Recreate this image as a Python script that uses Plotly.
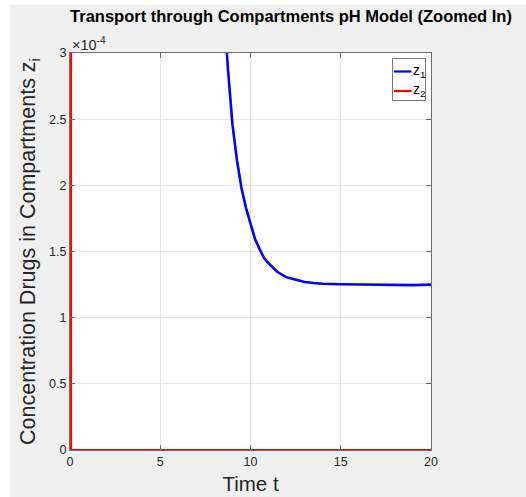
import plotly.graph_objects as go

# Compartment 1 concentration (steep decay toward a plateau)
t1 = [8.5, 8.75, 9.0, 9.25, 9.5, 9.75, 10.0, 10.25, 10.5, 10.75, 11.0, 11.5,
      12.0, 12.5, 13.0, 13.5, 14.0, 15.0, 16.0, 17.0, 18.0, 19.0, 20.0]
z1 = [3.40e-4, 2.88e-4, 2.46e-4, 2.19e-4, 1.98e-4, 1.83e-4, 1.71e-4, 1.595e-4,
      1.52e-4, 1.45e-4, 1.41e-4, 1.345e-4, 1.305e-4, 1.285e-4, 1.27e-4,
      1.262e-4, 1.256e-4, 1.252e-4, 1.250e-4, 1.249e-4, 1.248e-4, 1.246e-4,
      1.250e-4]

# Compartment 2 concentration (drops to zero almost immediately)
t2 = [0.0, 0.06, 0.5, 1.0, 2.0, 5.0, 10.0, 15.0, 20.0]
z2 = [2.0e-2, 0.0, 0.0, 0.0, 0.0, 0.0, 0.0, 0.0, 0.0]

series_names = ["z<sub>1</sub>", "z<sub>2</sub>"]
series_colors = ["#0000ff", "#ff0000"]

x_ticks = [0, 5, 10, 15, 20]
y_ticks = [0, 0.5e-4, 1.0e-4, 1.5e-4, 2.0e-4, 2.5e-4, 3.0e-4]
y_tick_text = ["0", "0.5", "1", "1.5", "2", "2.5", "3"]

FONT = "Liberation Sans, Arial, Helvetica, sans-serif"
AXIS_COLOR = "#6e6e6e"
TEXT_COLOR = "#262626"

fig = go.Figure()
fig.add_trace(go.Scatter(x=t1, y=z1, mode="lines", name=series_names[0],
                         line=dict(color=series_colors[0], width=2.6)))
fig.add_trace(go.Scatter(x=t2, y=z2, mode="lines", name=series_names[1],
                         line=dict(color=series_colors[1], width=2.0)))

W, H = 526, 497
L, R, T, B = 70, 95, 53, 47
pw, ph = W - L - R, H - T - B


def px_x(px):
    """Canvas pixel column -> paper x."""
    return (px - L) / pw


def px_y(py):
    """Canvas pixel row -> paper y."""
    return (H - B - py) / ph


axis_common = dict(
    showline=True, linecolor=AXIS_COLOR, linewidth=1, mirror="ticks",
    ticks="inside", ticklen=5, tickcolor=AXIS_COLOR,
    showgrid=True, gridcolor="#e6e6e6", gridwidth=1,
    zeroline=False, layer="above traces", automargin=False,
    tickfont=dict(family=FONT, size=12.5, color=TEXT_COLOR),
)

fig.update_layout(
    width=W, height=H,
    margin=dict(l=L, r=R, t=T, b=B, pad=0, autoexpand=False),
    paper_bgcolor="#f0f0f0",
    plot_bgcolor="#ffffff",
    showlegend=False,
    title=dict(text="<b>Transport through Compartments pH Model (Zoomed In)</b>",
               x=291 / W, xref="container", xanchor="center",
               y=1 - 16 / H, yref="container", yanchor="middle",
               font=dict(family=FONT, size=16.5, color="#000000")),
    xaxis=dict(range=[0, 20], tickvals=x_ticks,
               title=dict(text="Time t", standoff=8,
                          font=dict(family=FONT, size=20.5, color=TEXT_COLOR)),
               **axis_common),
    yaxis=dict(range=[0, 3e-4], tickvals=y_ticks, ticktext=y_tick_text,
               title=dict(text="Concentration Drugs in Compartments z<sub>i</sub>",
                          standoff=7,
                          font=dict(family=FONT, size=21.5, color=TEXT_COLOR)),
               **axis_common),
)

# Exponent multiplier for the y axis
fig.add_annotation(text="\u00d710<sup>-4</sup>", xref="paper", yref="paper",
                   x=px_x(70), y=px_y(55), xanchor="left", yanchor="bottom",
                   showarrow=False,
                   font=dict(family=FONT, size=14.5, color=TEXT_COLOR))

# Legend box drawn inside the upper-right corner of the axes
fig.add_shape(type="rect", xref="paper", yref="paper", layer="above",
              x0=px_x(392.5), x1=px_x(425.5), y0=px_y(100.5), y1=px_y(58.5),
              fillcolor="#ffffff", line=dict(color="#777777", width=1))
legend_rows = [71.5, 91.0]
for name, color, row in zip(series_names, series_colors, legend_rows):
    fig.add_shape(type="line", xref="paper", yref="paper", layer="above",
                  x0=px_x(394), x1=px_x(411.5), y0=px_y(row), y1=px_y(row),
                  line=dict(color=color, width=2.2))
    fig.add_annotation(text=name, xref="paper", yref="paper",
                       x=px_x(411), y=px_y(row - 1), xanchor="left", yanchor="middle",
                       showarrow=False,
                       font=dict(family=FONT, size=14, color="#000000"))

# White strips along the left and top edges of the canvas
fig.add_shape(type="rect", xref="paper", yref="paper", layer="below",
              x0=px_x(-5), x1=px_x(10), y0=px_y(H + 5), y1=px_y(-5),
              fillcolor="#ffffff", line=dict(width=0))
fig.add_shape(type="rect", xref="paper", yref="paper", layer="below",
              x0=px_x(-5), x1=px_x(W + 5), y0=px_y(5), y1=px_y(-5),
              fillcolor="#ffffff", line=dict(width=0))

fig.write_html("out.html")
